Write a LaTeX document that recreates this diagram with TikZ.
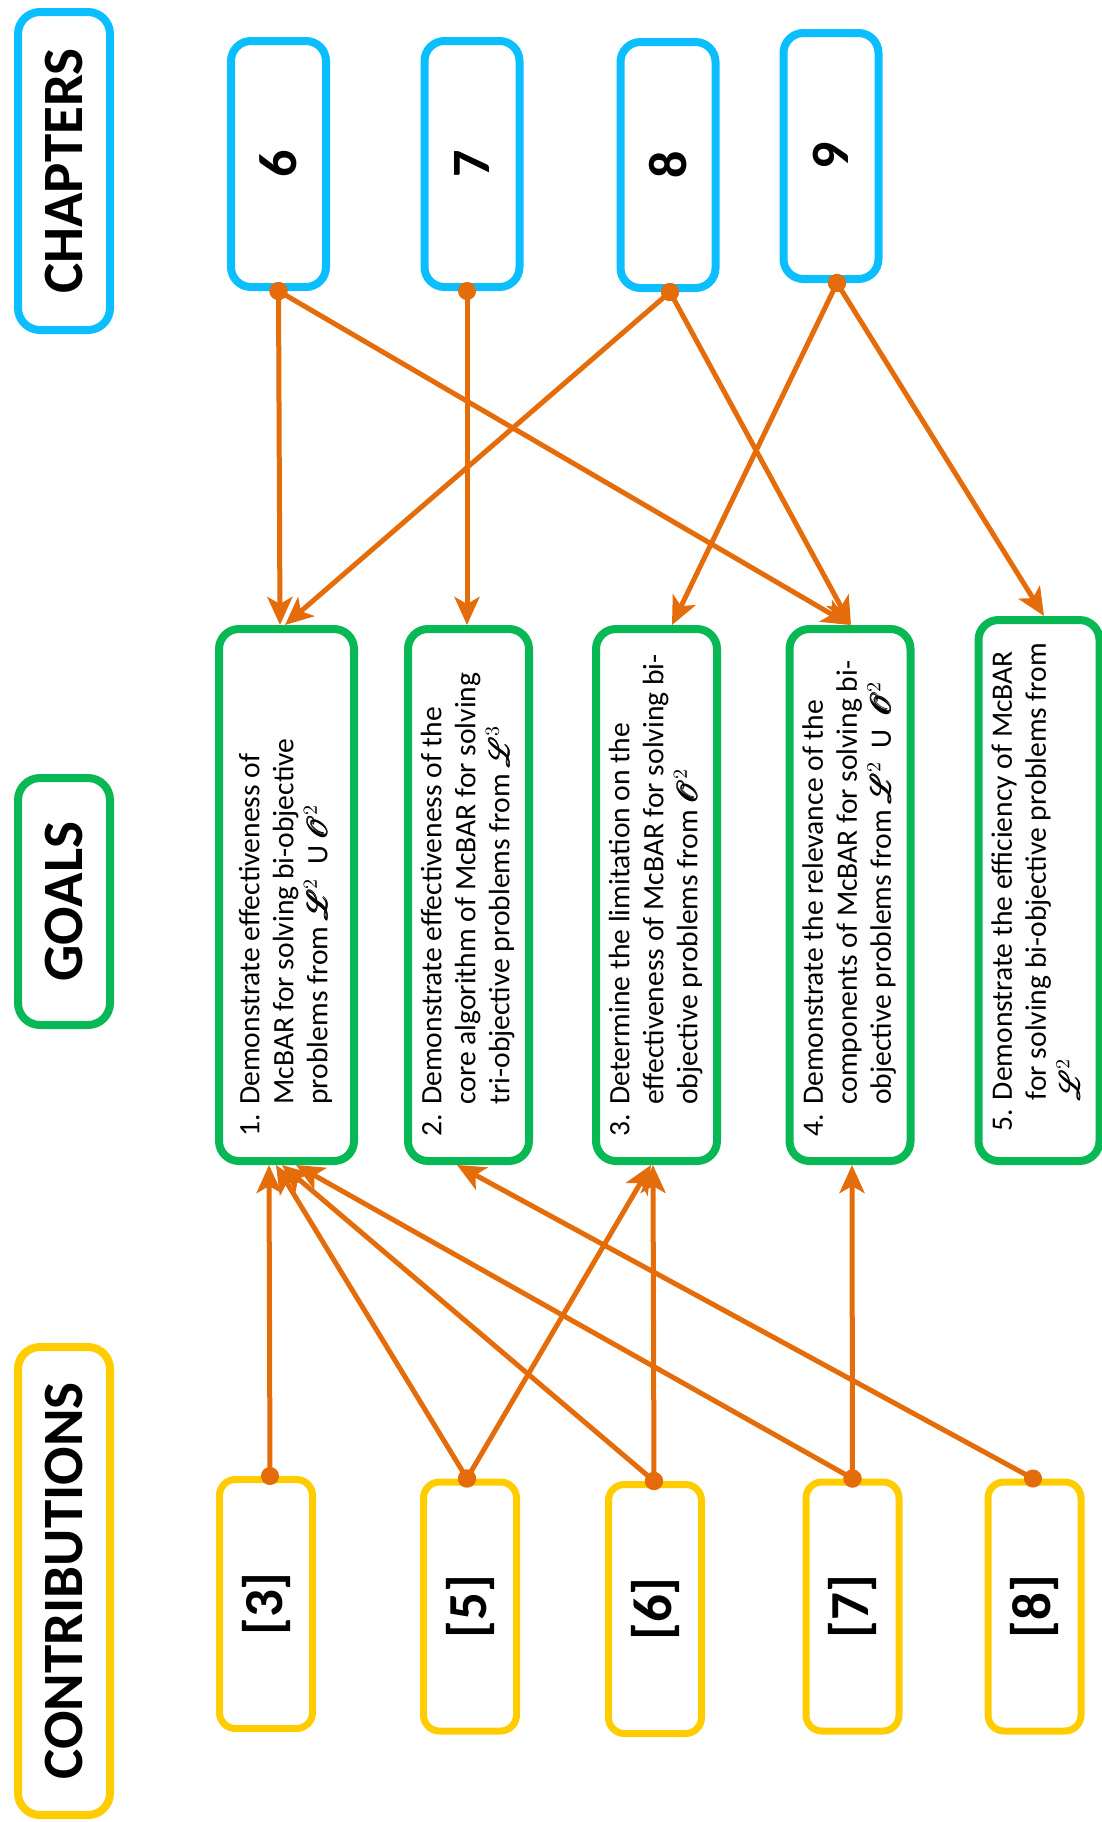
\documentclass[tikz,border=0pt]{standalone}
\usepackage{fontspec}
\setmainfont{Carlito}
\usepackage{amsmath}
\usepackage{mathrsfs}
\usepackage{graphicx}
\usetikzlibrary{arrows.meta}

\definecolor{chapblue}{HTML}{0ABEFF}
\definecolor{goalgreen}{HTML}{08B855}
\definecolor{contribyellow}{HTML}{FFCC00}
\definecolor{linkorange}{HTML}{E46C0A}

% bold script letters for the problem classes
\newcommand\Lsq[1]{$\pmb{\mathscr{L}}^{#1}$}
\newcommand\Osq[1]{$\pmb{\mathscr{O}}^{#1}$}

% goal text: number in a hanging column, lines set bottom-to-top
\newcommand\goal[2]{\rotatebox{90}{\makebox[241pt][l]{%
  \begin{tabular}{@{}l@{}l@{}}#1\kern0.3em & #2\end{tabular}}}}
\newcommand\upright[1]{\rotatebox{90}{#1}}

\begin{document}
\begin{tikzpicture}[x=0.5pt, y=-0.5pt,
  header/.style={draw=#1, line width=4pt, rounded corners=11pt,
    minimum width=46pt, inner sep=0pt,
    font=\fontsize{28.5}{34}\selectfont\bfseries},
  chapbox/.style={draw=chapblue, line width=4pt, rounded corners=10pt,
    minimum width=47.5pt, minimum height=123pt, inner sep=0pt,
    font=\fontsize{27}{32}\selectfont\bfseries},
  goalbox/.style={draw=goalgreen, line width=4pt, rounded corners=10pt,
    minimum height=266pt, inner sep=0pt,
    font=\fontsize{14.8}{17}\selectfont},
  contribbox/.style={draw=contribyellow, line width=3.5pt, rounded corners=8pt,
    minimum width=46.5pt, minimum height=124.5pt, inner sep=0pt,
    font=\fontsize{27.5}{32}\selectfont\bfseries},
  link/.style={draw=linkorange, line width=2.5pt,
    arrows={Circle[length=9pt]-Stealth[length=14pt,width=12.5pt,inset=3.5pt]},
    shorten <=-4.5pt}]

\useasboundingbox (0,0) rectangle (1102,1822);

% column headers
\node[header=chapblue, minimum height=159pt] (hchap) at (64,171) {\upright{CHAPTERS}};
\node[header=goalgreen, minimum height=123.5pt] (hgoal) at (64,901.5) {\upright{GOALS}};
\node[header=contribyellow, minimum height=234pt] (hcontrib) at (64,1581) {\upright{CONTRIBUTIONS}};

% chapters
\node[chapbox] (c6) at (278.5,164) {\upright{6}};
\node[chapbox] (c7) at (472,164) {\upright{7}};
\node[chapbox] (c8) at (668,165) {\upright{8}};
\node[chapbox] (c9) at (831,156) {\upright{9}};

% goals
\node[goalbox, minimum width=67.5pt] (g1) at (286.5,895) {\goal{1.}{Demonstrate effectiveness of\\
  & McBAR for solving bi-objective\\
  & problems from \Lsq{2}\ \ U \Osq{2}}};
\node[goalbox, minimum width=60.5pt] (g2) at (468.5,895) {\goal{2.}{Demonstrate effectiveness of the\\
  & core algorithm of McBAR for solving\\
  & tri-objective problems from \Lsq{3}}};
\node[goalbox, minimum width=60.5pt] (g3) at (656.5,895) {\goal{3.}{Determine the limitation on the\\
  & effectiveness of McBAR for solving bi-\\
  & objective problems from \Osq{2}}};
\node[goalbox, minimum width=60.5pt] (g4) at (850,895) {\goal{4.}{Demonstrate the relevance of the\\
  & components of McBAR for solving bi-\\
  & objective problems from \Lsq{2}\ \ U\ \ \Osq{2}}};
\node[goalbox, minimum width=60.5pt, minimum height=270.5pt] (g5) at (1039,890.5) {\goal{5.}{Demonstrate the efficiency of McBAR\\
  & for solving bi-objective problems from\\
  & \Lsq{2}}};

% contributions
\node[contribbox] (k3) at (266,1604) {\upright{[3]}};
\node[contribbox] (k5) at (470,1606.5) {\upright{[5]}};
\node[contribbox] (k6) at (655,1609) {\upright{[6]}};
\node[contribbox] (k7) at (852.5,1606.5) {\upright{[7]}};
\node[contribbox] (k8) at (1034.5,1606.5) {\upright{[8]}};

% chapters to goals
\draw[link] (c6.south) -- ([xshift=-3.25pt]g1.north);
\draw[link] (c6.south) -- (g4.north);
\draw[link] ([xshift=-2.5pt]c7.south) -- ([xshift=-0.75pt]g2.north);
\draw[link] ([xshift=1pt]c8.south) -- ([xshift=-0.75pt]g1.north);
\draw[link] ([xshift=1pt]c8.south) -- ([xshift=0.5pt]g4.north);
\draw[link] ([xshift=3pt]c9.south) -- ([xshift=7.75pt]g3.north);
\draw[link] ([xshift=3pt]c9.south) -- ([xshift=2.5pt]g5.north);

% contributions to goals
\draw[link] ([xshift=2pt]k3.north) -- ([xshift=-8.75pt]g1.south);
\draw[link] ([xshift=-1.5pt]k5.north) -- ([xshift=-5.25pt]g1.south);
\draw[link] ([xshift=-1.5pt]k5.north) -- ([xshift=-2.75pt]g3.south);
\draw[link] ([xshift=-0.5pt]k6.north) -- ([xshift=-2.25pt]g1.south);
\draw[link] ([xshift=-0.5pt]k6.north) -- ([xshift=-1.75pt]g3.south);
\draw[link] (k7.north) -- ([xshift=4.75pt]g1.south);
\draw[link] (k7.north) -- ([xshift=1pt]g4.south);
\draw[link] ([xshift=-0.75pt]k8.north) -- ([xshift=-5.75pt]g2.south);

\end{tikzpicture}
\end{document}
